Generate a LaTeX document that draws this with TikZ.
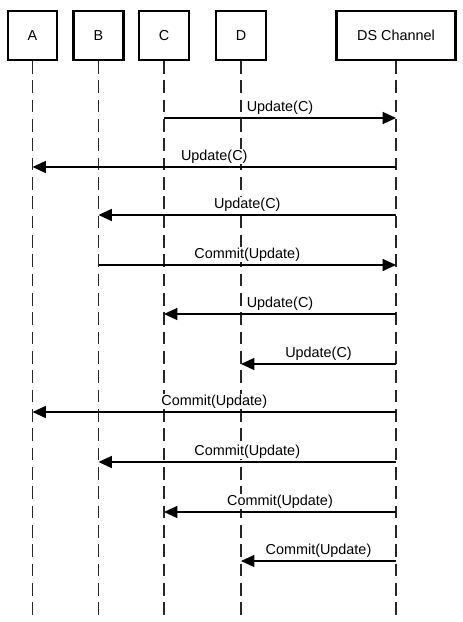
\documentclass[tikz,border=0pt]{standalone}
\usepackage{fontspec}
\setmainfont{Liberation Sans}
\usepackage{tikz}
\usetikzlibrary{arrows.meta}
\tikzset{
  party/.style={draw=black, line width=1.6pt, inner sep=0pt, minimum height=36.75pt,
                font=\fontsize{10.8}{13}\selectfont},
  lifeline/.style={line width=1.1pt, draw=black!85, dash pattern=on 9.5pt off 5pt},
  msg/.style={-{Triangle[length=10pt, width=9pt]}, line width=0.95pt, draw=black},
  msglabel/.style={midway, above=1.6pt, inner sep=0.6pt, fill=white,
                   font=\fontsize{10.8}{13}\selectfont}
}
\begin{document}
\begin{tikzpicture}[x=0.75pt,y=-0.75pt]
        \useasboundingbox (0,0) rectangle (463,622);
        % participants
        \node[party,minimum width=36.75pt] (a) at (32.5,35.5) {A};
        \node[party,minimum width=37.5pt] (b) at (98.5,35.5) {B};
        \node[party,minimum width=37.5pt] (c) at (164,35.5) {C};
        \node[party,minimum width=37.5pt] (d) at (241,35.5) {D};
        \node[party,minimum width=89.25pt] (ds) at (396,35.5) {DS Channel};
        % lifelines
        \foreach \p in {a,b,c,d,ds} {
          \coordinate (\p end) at (\p.south |- 0,621);
          \draw[lifeline] (\p.south) -- (\p end);
        }
        % messages
        \foreach \src/\dst/\y/\txt in {c/ds/118/Update(C), ds/a/167/Update(C),
            ds/b/215/Update(C), b/ds/265/Commit(Update), ds/c/314/Update(C),
            ds/d/364/Update(C), ds/a/412/Commit(Update), ds/b/462/Commit(Update),
            ds/c/512/Commit(Update), ds/d/561/Commit(Update)} {
          \draw[msg] (\src.south |- 0,\y) -- node[msglabel] {\txt} (\dst.south |- 0,\y);
        }
      \end{tikzpicture}
\end{document}
